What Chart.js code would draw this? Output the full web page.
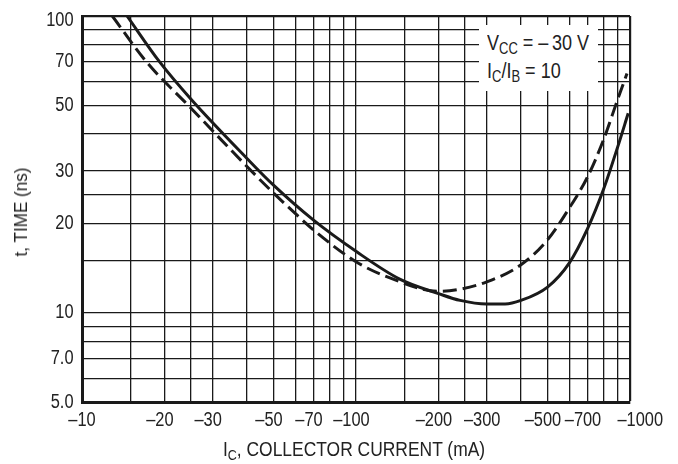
<!DOCTYPE html>
<html lang="en">
<head>
<meta charset="UTF-8" />
<title>Switching time vs collector current</title>
<script src="https://cdn.jsdelivr.net/npm/chart.js"></script>
<style>
    html, body { margin: 0; padding: 0; background: #fff; }
    #wrap { position: relative; width: 678px; height: 464px; font-family: "Liberation Sans", Arial, sans-serif; color: #222; }
    canvas { position: absolute; left: 0; top: 0; }
    .narrow { display: inline-block; white-space: nowrap; transform: scaleX(0.82); transform-origin: 0 50%; }
    .note { position: absolute; left: 479px; top: 25px; width: 119px; height: 66px; background: #fff; font-size: 22px; line-height: 28px; padding: 4px 0 0 8px; box-sizing: border-box; }
    .xtitle { position: absolute; left: 354px; top: 449px; font-size: 21px; line-height: 24px; transform: translate(-50%, -50%) scaleX(0.83); white-space: nowrap; }
    .ytitle { position: absolute; left: 21px; top: 212px; font-size: 19px; line-height: 22px; transform: translate(-50%, -50%) rotate(-90deg) scaleX(0.9); white-space: nowrap; }
    sub { font-size: 72%; vertical-align: -0.28em; line-height: 0; }
</style>
</head>
<body>
<div id="wrap">
    <canvas id="timeChart" width="678" height="464"></canvas>
    <div class="note">
        <span class="narrow">V<sub>CC</sub> = &ndash;&thinsp;30 V</span><br>
        <span class="narrow">I<sub>C</sub>/I<sub>B</sub> = 10</span>
    </div>
    <div class="ytitle">t, TIME (ns)</div>
    <div class="xtitle">I<sub>C</sub>, COLLECTOR CURRENT (mA)</div>
</div>
<script>
    // collector current magnitude (mA) and time (ns)
    const solidX = [14.6, 19.2, 25, 40, 50, 70, 100, 145, 200, 240, 300, 350, 400, 500, 600, 700, 800, 900, 985];
    const solidY = [100, 70, 52.4, 33.1, 26.9, 20.5, 16.1, 12.95, 11.6, 11.0, 10.7, 10.7, 11.0, 12.2, 14.7, 19.2, 26.0, 36.0, 47];

    const dashedX = [12.9, 17.2, 25, 40, 50, 60, 70, 100, 133, 200, 240, 300, 400, 500, 600, 700, 800, 900, 975];
    const dashedY = [100, 70, 48.9, 31.1, 25.3, 21.6, 19.0, 14.85, 13.1, 11.8, 12.0, 12.7, 14.5, 17.6, 22.5, 28.7, 38.2, 52.1, 64];

    // grid lines and labelled ticks
    const xGrid = [10, 15, 20, 25, 30, 40, 50, 60, 70, 80, 90, 100, 150, 200, 250, 300, 400, 500, 600, 700, 800, 900, 1000];
    const xLabels = [10, 20, 30, 50, 70, 100, 200, 300, 500, 700, 1000];
    const yGrid = [5, 6, 7, 8, 9, 10, 15, 20, 25, 30, 40, 50, 60, 70, 80, 90, 100];
    const yLabels = [5, 7, 10, 20, 30, 50, 70, 100];
    const yLabelText = ["5.0", "7.0", "10", "20", "30", "50", "70", "100"];

    const ink = "#1a1a1a";
    const squeeze = 0.82;

    const toPoints = (xs, ys) => xs.map((x, i) => ({ x: x, y: ys[i] }));

    // the original uses a condensed face; draw tick labels squeezed sideways
    const narrowTicks = {
        id: "narrowTicks",
        afterDraw(chart) {
            const { ctx, chartArea } = chart;
            const xs = chart.scales.x, ys = chart.scales.y;
            ctx.save();
            ctx.fillStyle = "#222";
            ctx.font = "20px 'Liberation Sans', Arial, sans-serif";
            ctx.textBaseline = "middle";

            xLabels.forEach((v, i) => {
                const text = "\u2013" + v;
                const full = ctx.measureText(text).width * squeeze;
                const digits = ctx.measureText(String(v)).width * squeeze;
                const px = xs.getPixelForValue(v);
                let right = px + digits / 2;
                if (i === 0) right = px + full / 2;
                if (i === xLabels.length - 1) right = chartArea.right + 33;
                ctx.save();
                ctx.translate(right, chartArea.bottom + 18);
                ctx.scale(squeeze, 1);
                ctx.textAlign = "right";
                ctx.fillText(text, 0, 0);
                ctx.restore();
            });

            yLabels.forEach((v, i) => {
                ctx.save();
                ctx.translate(chartArea.left - 8.5, Math.max(ys.getPixelForValue(v), chartArea.top + 4));
                ctx.scale(squeeze, 1);
                ctx.textAlign = "right";
                ctx.fillText(yLabelText[i], 0, 0);
                ctx.restore();
            });
            ctx.restore();
        }
    };

    new Chart(document.getElementById("timeChart"), {
        type: "scatter",
        data: {
            datasets: [{
                data: toPoints(solidX, solidY),
                showLine: true,
                borderColor: ink,
                borderWidth: 3,
                pointRadius: 0,
                cubicInterpolationMode: "monotone"
            }, {
                data: toPoints(dashedX, dashedY),
                showLine: true,
                borderColor: ink,
                borderWidth: 3,
                borderDash: [14, 6],
                pointRadius: 0,
                cubicInterpolationMode: "monotone"
            }]
        },
        options: {
            responsive: false,
            animation: false,
            layout: { padding: { left: 0, right: 48, top: 16, bottom: 0 } },
            plugins: { legend: { display: false }, tooltip: { enabled: false } },
            scales: {
                x: {
                    type: "logarithmic",
                    min: 10,
                    max: 1000,
                    afterBuildTicks: s => { s.ticks = xGrid.map(v => ({ value: v })); },
                    afterFit: s => { s.height = 62; },
                    grid: { color: ink, lineWidth: c => (c.tick && c.tick.value === 1000 ? 2.2 : 1.3), drawTicks: false },
                    border: { color: ink, width: 3 },
                    ticks: { display: false, autoSkip: false }
                },
                y: {
                    type: "logarithmic",
                    min: 5,
                    max: 100,
                    afterBuildTicks: s => { s.ticks = yGrid.map(v => ({ value: v })); },
                    afterFit: s => { s.width = 82; },
                    grid: { color: ink, lineWidth: c => (c.tick && c.tick.value === 100 ? 2.2 : 1.3), drawTicks: false },
                    border: { color: ink, width: 3 },
                    ticks: { display: false, autoSkip: false }
                }
            }
        },
        plugins: [narrowTicks]
    });
</script>
</body>
</html>
